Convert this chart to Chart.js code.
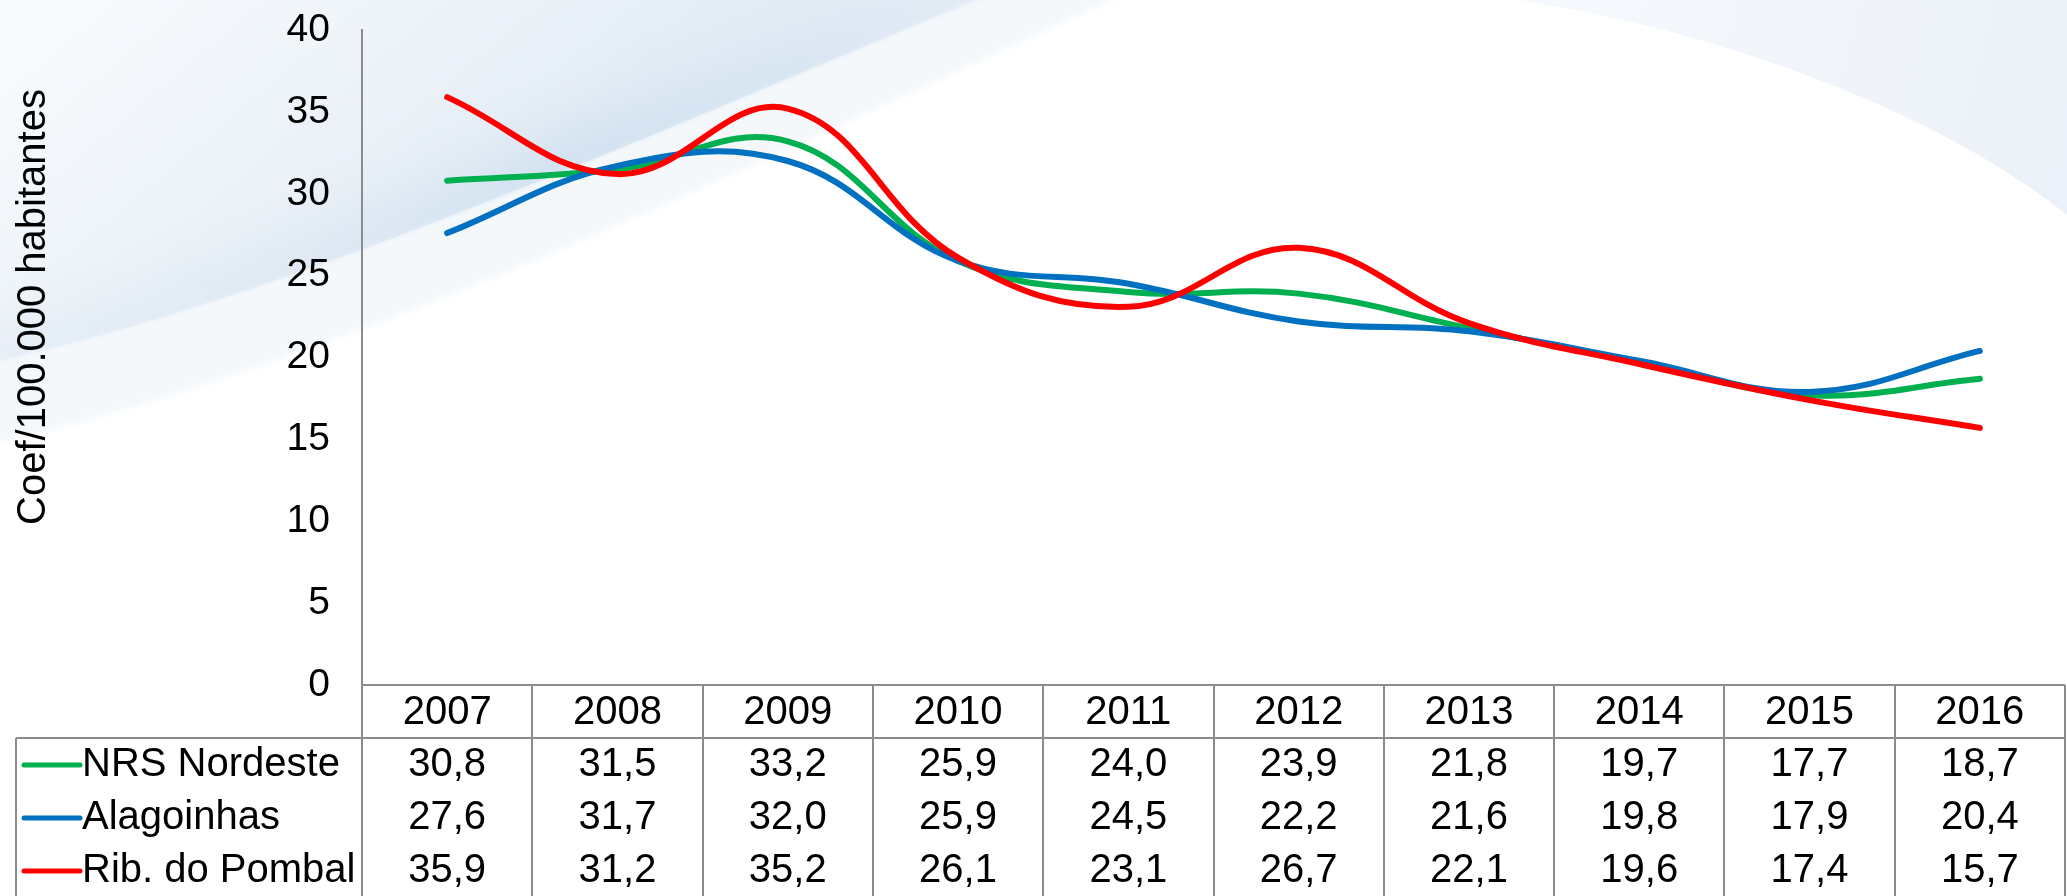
<!DOCTYPE html>
<html>
<head>
<meta charset="utf-8">
<script src="https://cdn.jsdelivr.net/npm/chart.js@4.4.1/dist/chart.umd.min.js"></script>
<style>
  html, body { margin: 0; padding: 0; background: #ffffff; }
  #wrap { width: 2067px; height: 896px; position: relative; }
  canvas { display: block; }
</style>
</head>
<body>
<div id="wrap"><canvas id="c" width="2067" height="896"></canvas></div>
<script>
// ---- data ----
const years = ['2007', '2008', '2009', '2010', '2011', '2012', '2013', '2014', '2015', '2016'];
const nrsNordeste = [30.8, 31.5, 33.2, 25.9, 24.0, 23.9, 21.8, 19.7, 17.7, 18.7];
const alagoinhas = [27.6, 31.7, 32.0, 25.9, 24.5, 22.2, 21.6, 19.8, 17.9, 20.4];
const ribPombal = [35.9, 31.2, 35.2, 26.1, 23.1, 26.7, 22.1, 19.6, 17.4, 15.7];
const seriesNames = ['NRS Nordeste', 'Alagoinhas', 'Rib. do Pombal'];
const seriesColors = ['#00B050', '#0070C0', '#FF0000'];
const yMin = 0, yMax = 40, yStep = 5;
const yTitle = 'Coef/100.000 habitantes';

const FONT = "'Liberation Sans', Arial, sans-serif";
const GRID = '#8c8c8c';

const seriesValues = [nrsNordeste, alagoinhas, ribPombal];

const bgPlugin = {
  id: 'bg',
  beforeDraw(chart) {
    const ctx = chart.ctx;
    const W = chart.width, H = chart.height;
    ctx.save();
    ctx.fillStyle = '#ffffff';
    ctx.fillRect(0, 0, W, H);
    // faint lighter band below main swoosh
    const band = new Path2D();
    band.moveTo(-40, -40);
    band.lineTo(1200, -40);
    band.bezierCurveTo(840, 120, 380, 360, -40, 452);
    band.closePath();
    ctx.save();
    ctx.filter = 'blur(3px)';
    ctx.fillStyle = 'rgba(240,245,250,0.75)';
    ctx.fill(band);
    ctx.restore();
    // main swoosh
    const swoosh = new Path2D();
    swoosh.moveTo(-40, -40);
    swoosh.lineTo(1075, -40);
    swoosh.bezierCurveTo(700, 110, 300, 300, -40, 370);
    swoosh.closePath();
    let g = ctx.createLinearGradient(150, -60, 420, 260);
    g.addColorStop(0, '#f8fafd');
    g.addColorStop(0.5, '#eef4f9');
    g.addColorStop(1, '#e4edf6');
    ctx.save();
    ctx.filter = 'blur(2px)';
    ctx.fillStyle = g;
    ctx.fill(swoosh);
    ctx.restore();
    // soft deeper tint along boundary
    ctx.save();
    ctx.clip(swoosh);
    ctx.filter = 'blur(30px)';
    const sg = ctx.createLinearGradient(0, 0, 980, 0);
    sg.addColorStop(0, 'rgba(210,225,240,0.35)');
    sg.addColorStop(0.3, 'rgba(205,222,239,0.45)');
    sg.addColorStop(0.6, 'rgba(196,216,236,0.75)');
    sg.addColorStop(0.85, 'rgba(205,222,239,0.6)');
    sg.addColorStop(1, 'rgba(220,232,244,0.3)');
    ctx.strokeStyle = sg;
    ctx.lineWidth = 60;
    ctx.beginPath();
    ctx.moveTo(1075, -40);
    ctx.bezierCurveTo(700, 110, 300, 300, -40, 370);
    ctx.stroke();
    ctx.restore();
    // top right pale area
    ctx.beginPath();
    ctx.moveTo(1520, 0);
    ctx.bezierCurveTo(1740, 35, 1950, 120, 2067, 215);
    ctx.lineTo(2067, 0);
    ctx.closePath();
    let g2 = ctx.createLinearGradient(1600, 0, 2067, 120);
    g2.addColorStop(0, '#f5f8fc');
    g2.addColorStop(1, '#ebf1f8');
    ctx.fillStyle = g2;
    ctx.fill();
    ctx.restore();
  }
};

const tablePlugin = {
  id: 'dataTable',
  afterDraw(chart) {
    const ctx = chart.ctx;
    const xs = chart.scales.x;
    const area = chart.chartArea;
    const left = area.left, right = area.right;
    const colW = (right - left) / years.length;
    const yAxisLine = area.bottom;
    const headerBottom = 738;
    const bottom = chart.height;
    const rowY = [765, 818, 871];
    ctx.save();
    ctx.strokeStyle = GRID;
    ctx.lineWidth = 2;
    ctx.beginPath();
    ctx.moveTo(left, yAxisLine); ctx.lineTo(right, yAxisLine);
    ctx.moveTo(16, headerBottom); ctx.lineTo(right, headerBottom);
    for (let k = 0; k <= years.length; k++) {
      const x = Math.round(left + k * colW);
      ctx.moveTo(x, yAxisLine); ctx.lineTo(x, bottom);
    }
    ctx.moveTo(16, headerBottom); ctx.lineTo(16, bottom);
    ctx.stroke();

    ctx.fillStyle = '#000000';
    ctx.font = '40px ' + FONT;
    ctx.textAlign = 'center';
    ctx.textBaseline = 'middle';
    years.forEach((yr, i) => {
      ctx.fillText(yr, xs.getPixelForValue(i), 713);
    });
    seriesValues.forEach((vals, s) => {
      vals.forEach((v, i) => {
        ctx.fillText(v.toFixed(1).replace('.', ','), xs.getPixelForValue(i), rowY[s]);
      });
    });
    // legend keys
    ctx.textAlign = 'left';
    seriesNames.forEach((name, s) => {
      ctx.strokeStyle = seriesColors[s];
      ctx.lineWidth = 5;
      ctx.lineCap = 'round';
      ctx.beginPath();
      ctx.moveTo(24, rowY[s]); ctx.lineTo(80, rowY[s]);
      ctx.stroke();
      ctx.fillText(name, 82, rowY[s]);
    });
    // y-axis title
    ctx.translate(34, 307);
    ctx.rotate(-Math.PI / 2);
    ctx.textAlign = 'center';
    ctx.font = '40px ' + FONT;
    ctx.fillText(yTitle, 0, 0);
    ctx.restore();
  }
};

const datasets = seriesNames.map((name, s) => ({
  label: name,
  data: seriesValues[s],
  borderColor: seriesColors[s],
  backgroundColor: seriesColors[s],
  borderWidth: 6,
  pointRadius: 0,
  tension: 0.4,
  fill: false,
  borderCapStyle: 'round',
  order: seriesNames.length - 1 - s
}));

new Chart(document.getElementById('c'), {
  type: 'line',
  data: { labels: years, datasets },
  options: {
    responsive: false,
    animation: false,
    devicePixelRatio: 1,
    layout: { padding: { left: 0, right: 2, top: 30, bottom: 211 } },
    plugins: { legend: { display: false }, tooltip: { enabled: false } },
    scales: {
      x: {
        type: 'category',
        offset: true,
        display: false
      },
      y: {
        min: yMin,
        max: yMax,
        ticks: {
          stepSize: yStep,
          color: '#000000',
          padding: 32,
          font: { size: 39, family: FONT }
        },
        grid: { display: false, drawTicks: false },
        border: { display: true, color: GRID, width: 2 },
        afterFit(scale) {
          scale.width = 362;
          scale.paddingTop = 0;
          scale.paddingBottom = 0;
        }
      }
    }
  },
  plugins: [bgPlugin, tablePlugin]
});
</script>
</body>
</html>
